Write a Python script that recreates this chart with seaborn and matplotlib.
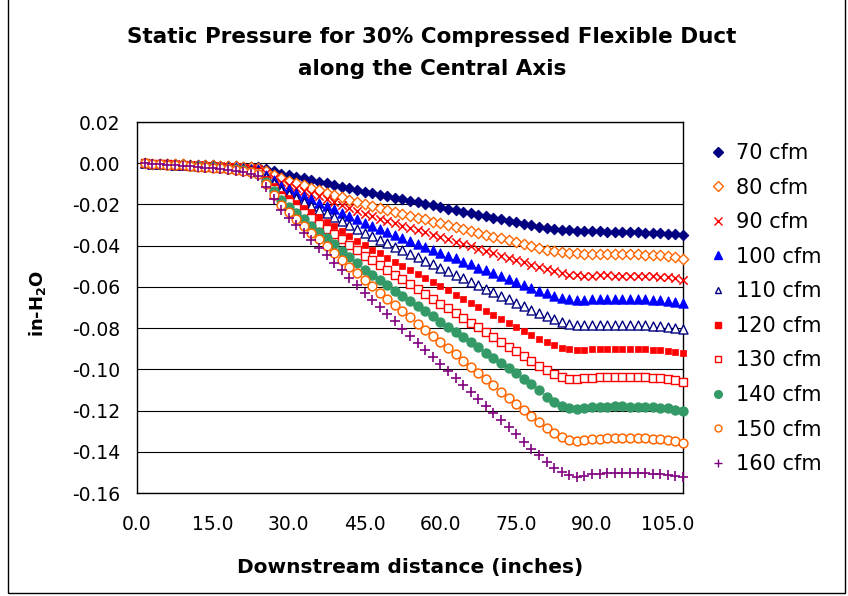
import matplotlib
matplotlib.use("Agg")
import matplotlib.pyplot as plt
from matplotlib.patches import Rectangle
from matplotlib.lines import Line2D
import seaborn as sns
import pandas as pd

# ---------------- data ----------------
distance = [1.5, 3.0, 4.5, 6.0, 7.5, 9.0, 10.5, 12.0, 13.5, 15.0, 16.5, 18.0,
            19.5, 21.0, 22.5, 24.0, 25.5, 27.0, 28.5, 30.0, 31.5, 33.0, 34.5, 36.0,
            37.5, 39.0, 40.5, 42.0, 43.5, 45.0, 46.5, 48.0, 49.5, 51.0, 52.5, 54.0,
            55.5, 57.0, 58.5, 60.0, 61.5, 63.0, 64.5, 66.0, 67.5, 69.0, 70.5, 72.0,
            73.5, 75.0, 76.5, 78.0, 79.5, 81.0, 82.5, 84.0, 85.5, 87.0, 88.5, 90.0,
            91.5, 93.0, 94.5, 96.0, 97.5, 99.0, 100.5, 102.0, 103.5, 105.0, 106.5, 108.0]

cfm70 = [0.0000, -0.0002, -0.0003, -0.0004, -0.0005, -0.0006, -0.0008, -0.0009, -0.0010, -0.0011, -0.0012, -0.0013,
         -0.0015, -0.0016, -0.0018, -0.0020, -0.0030, -0.0040, -0.0050, -0.0058, -0.0066, -0.0074, -0.0082, -0.0090,
         -0.0098, -0.0106, -0.0114, -0.0122, -0.0130, -0.0138, -0.0145, -0.0153, -0.0160, -0.0168, -0.0175, -0.0183,
         -0.0190, -0.0198, -0.0205, -0.0213, -0.0220, -0.0227, -0.0235, -0.0242, -0.0250, -0.0257, -0.0265, -0.0272,
         -0.0280, -0.0287, -0.0295, -0.0302, -0.0308, -0.0313, -0.0318, -0.0322, -0.0325, -0.0327, -0.0329, -0.0330,
         -0.0331, -0.0332, -0.0333, -0.0334, -0.0335, -0.0336, -0.0337, -0.0339, -0.0340, -0.0342, -0.0345, -0.0348]

cfm80 = [0.0000, -0.0002, -0.0003, -0.0004, -0.0005, -0.0006, -0.0008, -0.0009, -0.0010, -0.0011, -0.0012, -0.0014,
         -0.0015, -0.0017, -0.0019, -0.0021, -0.0039, -0.0056, -0.0074, -0.0085, -0.0097, -0.0108, -0.0120, -0.0131,
         -0.0143, -0.0154, -0.0166, -0.0177, -0.0189, -0.0200, -0.0209, -0.0218, -0.0228, -0.0237, -0.0246, -0.0255,
         -0.0264, -0.0273, -0.0283, -0.0292, -0.0301, -0.0310, -0.0319, -0.0329, -0.0338, -0.0347, -0.0356, -0.0365,
         -0.0374, -0.0384, -0.0393, -0.0402, -0.0411, -0.0419, -0.0426, -0.0432, -0.0436, -0.0438, -0.0439, -0.0439,
         -0.0439, -0.0440, -0.0440, -0.0441, -0.0441, -0.0442, -0.0443, -0.0445, -0.0447, -0.0451, -0.0457, -0.0465]

cfm90 = [0.0000, -0.0002, -0.0004, -0.0005, -0.0006, -0.0008, -0.0009, -0.0011, -0.0012, -0.0014, -0.0015, -0.0017,
         -0.0019, -0.0022, -0.0025, -0.0029, -0.0049, -0.0070, -0.0090, -0.0104, -0.0119, -0.0133, -0.0147, -0.0161,
         -0.0176, -0.0190, -0.0204, -0.0218, -0.0233, -0.0247, -0.0258, -0.0269, -0.0280, -0.0292, -0.0303, -0.0314,
         -0.0325, -0.0336, -0.0347, -0.0358, -0.0370, -0.0381, -0.0392, -0.0403, -0.0414, -0.0425, -0.0436, -0.0448,
         -0.0459, -0.0470, -0.0481, -0.0492, -0.0503, -0.0514, -0.0524, -0.0533, -0.0540, -0.0544, -0.0545, -0.0545,
         -0.0544, -0.0544, -0.0545, -0.0545, -0.0546, -0.0546, -0.0547, -0.0549, -0.0551, -0.0554, -0.0559, -0.0566]

cfm100 = [0.0000, -0.0002, -0.0004, -0.0005, -0.0007, -0.0008, -0.0010, -0.0011, -0.0013, -0.0014, -0.0016, -0.0018,
          -0.0020, -0.0023, -0.0026, -0.0030, -0.0057, -0.0083, -0.0110, -0.0126, -0.0143, -0.0159, -0.0175, -0.0191,
          -0.0208, -0.0224, -0.0240, -0.0256, -0.0273, -0.0289, -0.0303, -0.0318, -0.0332, -0.0347, -0.0361, -0.0376,
          -0.0390, -0.0405, -0.0419, -0.0434, -0.0448, -0.0462, -0.0477, -0.0491, -0.0506, -0.0520, -0.0535, -0.0549,
          -0.0564, -0.0578, -0.0593, -0.0607, -0.0620, -0.0632, -0.0643, -0.0653, -0.0660, -0.0663, -0.0663, -0.0661,
          -0.0659, -0.0658, -0.0657, -0.0657, -0.0658, -0.0659, -0.0660, -0.0662, -0.0664, -0.0667, -0.0672, -0.0680]

cfm110 = [0.0000, -0.0002, -0.0004, -0.0006, -0.0007, -0.0009, -0.0010, -0.0012, -0.0014, -0.0015, -0.0017, -0.0019,
          -0.0022, -0.0025, -0.0029, -0.0034, -0.0066, -0.0098, -0.0130, -0.0149, -0.0168, -0.0187, -0.0206, -0.0225,
          -0.0243, -0.0262, -0.0281, -0.0300, -0.0319, -0.0338, -0.0355, -0.0372, -0.0389, -0.0406, -0.0423, -0.0440,
          -0.0457, -0.0474, -0.0491, -0.0508, -0.0525, -0.0542, -0.0559, -0.0576, -0.0593, -0.0610, -0.0627, -0.0644,
          -0.0661, -0.0678, -0.0695, -0.0712, -0.0728, -0.0743, -0.0757, -0.0769, -0.0778, -0.0783, -0.0785, -0.0785,
          -0.0784, -0.0784, -0.0785, -0.0785, -0.0786, -0.0786, -0.0787, -0.0788, -0.0790, -0.0793, -0.0798, -0.0805]

cfm120 = [0.0000, -0.0002, -0.0004, -0.0006, -0.0008, -0.0010, -0.0012, -0.0014, -0.0016, -0.0018, -0.0020, -0.0022,
          -0.0025, -0.0029, -0.0034, -0.0040, -0.0076, -0.0111, -0.0147, -0.0170, -0.0193, -0.0216, -0.0239, -0.0262,
          -0.0285, -0.0307, -0.0330, -0.0353, -0.0376, -0.0399, -0.0419, -0.0438, -0.0458, -0.0478, -0.0498, -0.0518,
          -0.0538, -0.0558, -0.0577, -0.0597, -0.0617, -0.0637, -0.0657, -0.0676, -0.0696, -0.0716, -0.0736, -0.0756,
          -0.0776, -0.0795, -0.0815, -0.0835, -0.0853, -0.0869, -0.0883, -0.0895, -0.0903, -0.0906, -0.0905, -0.0903,
          -0.0902, -0.0901, -0.0901, -0.0901, -0.0902, -0.0902, -0.0903, -0.0905, -0.0907, -0.0910, -0.0915, -0.0922]

cfm130 = [0.0000, -0.0002, -0.0004, -0.0006, -0.0008, -0.0010, -0.0012, -0.0014, -0.0016, -0.0019, -0.0021, -0.0024,
          -0.0027, -0.0031, -0.0037, -0.0045, -0.0084, -0.0124, -0.0163, -0.0189, -0.0215, -0.0241, -0.0267, -0.0293,
          -0.0318, -0.0344, -0.0370, -0.0396, -0.0422, -0.0448, -0.0471, -0.0495, -0.0518, -0.0541, -0.0564, -0.0588,
          -0.0611, -0.0634, -0.0657, -0.0681, -0.0704, -0.0727, -0.0751, -0.0774, -0.0797, -0.0820, -0.0844, -0.0867,
          -0.0890, -0.0913, -0.0937, -0.0960, -0.0982, -0.1003, -0.1022, -0.1037, -0.1045, -0.1047, -0.1044, -0.1040,
          -0.1038, -0.1037, -0.1036, -0.1036, -0.1037, -0.1037, -0.1038, -0.1040, -0.1043, -0.1047, -0.1053, -0.1060]

cfm140 = [0.0000, -0.0002, -0.0005, -0.0007, -0.0009, -0.0011, -0.0013, -0.0015, -0.0018, -0.0020, -0.0023, -0.0026,
          -0.0030, -0.0035, -0.0042, -0.0050, -0.0093, -0.0137, -0.0180, -0.0211, -0.0241, -0.0272, -0.0303, -0.0333,
          -0.0364, -0.0394, -0.0425, -0.0456, -0.0486, -0.0517, -0.0542, -0.0567, -0.0592, -0.0618, -0.0643, -0.0668,
          -0.0693, -0.0718, -0.0743, -0.0768, -0.0794, -0.0819, -0.0844, -0.0869, -0.0894, -0.0919, -0.0944, -0.0970,
          -0.0995, -0.1020, -0.1045, -0.1070, -0.1100, -0.1132, -0.1160, -0.1180, -0.1190, -0.1192, -0.1189, -0.1185,
          -0.1183, -0.1181, -0.1180, -0.1180, -0.1181, -0.1181, -0.1182, -0.1184, -0.1186, -0.1190, -0.1195, -0.1201]

cfm150 = [0.0000, -0.0003, -0.0005, -0.0007, -0.0009, -0.0011, -0.0013, -0.0016, -0.0018, -0.0021, -0.0024, -0.0027,
          -0.0031, -0.0036, -0.0043, -0.0052, -0.0103, -0.0154, -0.0205, -0.0238, -0.0271, -0.0304, -0.0337, -0.0370,
          -0.0403, -0.0436, -0.0469, -0.0502, -0.0535, -0.0568, -0.0598, -0.0628, -0.0658, -0.0688, -0.0718, -0.0748,
          -0.0778, -0.0808, -0.0838, -0.0868, -0.0898, -0.0928, -0.0958, -0.0988, -0.1018, -0.1048, -0.1078, -0.1108,
          -0.1138, -0.1168, -0.1198, -0.1228, -0.1257, -0.1285, -0.1310, -0.1330, -0.1342, -0.1346, -0.1344, -0.1339,
          -0.1336, -0.1334, -0.1333, -0.1333, -0.1333, -0.1334, -0.1335, -0.1337, -0.1340, -0.1344, -0.1350, -0.1358]

cfm160 = [0.0000, -0.0003, -0.0005, -0.0008, -0.0010, -0.0013, -0.0015, -0.0018, -0.0021, -0.0024, -0.0027, -0.0031,
          -0.0036, -0.0042, -0.0050, -0.0060, -0.0116, -0.0172, -0.0228, -0.0265, -0.0301, -0.0338, -0.0374, -0.0411,
          -0.0447, -0.0484, -0.0520, -0.0557, -0.0593, -0.0630, -0.0664, -0.0699, -0.0733, -0.0767, -0.0802, -0.0836,
          -0.0870, -0.0905, -0.0939, -0.0973, -0.1008, -0.1042, -0.1076, -0.1111, -0.1145, -0.1179, -0.1213, -0.1248,
          -0.1282, -0.1316, -0.1351, -0.1385, -0.1418, -0.1450, -0.1478, -0.1500, -0.1515, -0.1520, -0.1516, -0.1510,
          -0.1507, -0.1505, -0.1504, -0.1504, -0.1504, -0.1505, -0.1505, -0.1507, -0.1509, -0.1512, -0.1516, -0.1520]

series_labels = ["70 cfm", "80 cfm", "90 cfm", "100 cfm", "110 cfm",
                 "120 cfm", "130 cfm", "140 cfm", "150 cfm", "160 cfm"]
series_values = [cfm70, cfm80, cfm90, cfm100, cfm110, cfm120, cfm130, cfm140, cfm150, cfm160]
x_ticks = [0, 15, 30, 45, 60, 75, 90, 105]
x_tick_labels = ["0.0", "15.0", "30.0", "45.0", "60.0", "75.0", "90.0", "105.0"]
y_ticks = [0.02, 0.00, -0.02, -0.04, -0.06, -0.08, -0.10, -0.12, -0.14, -0.16]
y_tick_labels = ["0.02", "0.00", "-0.02", "-0.04", "-0.06", "-0.08", "-0.10", "-0.12", "-0.14", "-0.16"]

# ---------------- styles ----------------
# (marker, color, filled, size, linewidth)
styles = [
    ("D", "#000080", True, 28, 0.8),
    ("D", "#FF6600", False, 28, 1.0),
    ("x", "#FF0000", True, 36, 1.1),
    ("^", "#0000FF", True, 44, 0.8),
    ("^", "#000080", False, 42, 1.0),
    ("s", "#FF0000", True, 18, 0.5),
    ("s", "#FF0000", False, 38, 1.0),
    ("o", "#339966", True, 44, 0.8),
    ("o", "#FF6600", False, 40, 1.1),
    ("+", "#800080", True, 54, 1.2),
]

sns.set_style("white")
plt.rcParams["font.family"] = ["DejaVu Sans"]
plt.rcParams["axes.unicode_minus"] = False
plt.rcParams["text.color"] = "black"

fig = plt.figure(figsize=(8.48, 5.96), dpi=100)
ax = fig.add_axes([137 / 848, 1 - 493 / 596, (683 - 137) / 848, (493 - 122) / 596])

rows = []
for lab, vals in zip(series_labels, series_values):
    for xv, yv in zip(distance, vals):
        rows.append({"distance": xv, "pressure": yv, "series": lab})
df = pd.DataFrame(rows)

handles = []
for lab, (mk, col, filled, s, lw) in zip(series_labels, styles):
    sub = df[df["series"] == lab]
    if mk in ("x", "+"):
        kw = dict(color=col, linewidth=lw)
    elif filled:
        kw = dict(color=col, edgecolor=col, linewidth=lw)
    else:
        kw = dict(facecolor="white", edgecolor=col, linewidth=lw)
    sns.scatterplot(data=sub, x="distance", y="pressure", marker=mk, s=s,
                    ax=ax, clip_on=False, zorder=3, legend=False, **kw)
    if mk in ("x", "+"):
        h = Line2D([], [], linestyle="none", marker=mk, markersize=6,
                   markeredgecolor=col, markeredgewidth=1.0)
    elif filled:
        h = Line2D([], [], linestyle="none", marker=mk, markersize=5.5 if mk != "s" else 4.5,
                   markerfacecolor=col, markeredgecolor=col)
    else:
        h = Line2D([], [], linestyle="none", marker=mk, markersize=5,
                   markerfacecolor="white", markeredgecolor=col, markeredgewidth=1.0)
    handles.append(h)

ax.set_xlim(0, 108)
ax.set_ylim(-0.16, 0.02)
ax.set_xticks(x_ticks)
ax.set_xticklabels(x_tick_labels)
ax.set_yticks(y_ticks)
ax.set_yticklabels(y_tick_labels)
ax.tick_params(axis="both", direction="out", length=6, width=1, color="black",
               labelsize=13.5, labelcolor="black")
ax.tick_params(axis="y", pad=6)
ax.tick_params(axis="x", pad=10)
ax.yaxis.grid(True, color="black", linewidth=0.8, zorder=0)
ax.xaxis.grid(False)
ax.set_axisbelow(True)
for sp in ax.spines.values():
    sp.set_visible(True)
    sp.set_color("black")
    sp.set_linewidth(1.0)
ax.set_xlabel("")
ax.set_ylabel("")

fig.text(410 / 848, 1 - 568 / 596, "Downstream distance (inches)", ha="center", va="center",
         fontsize=14.5, fontweight="bold")
fig.text(38 / 848, 1 - 303 / 596, r"in-H$_\mathbf{2}$O", ha="center", va="center", rotation=90,
         fontsize=13, fontweight="bold")
fig.text(432 / 848, 1 - 37 / 596, "Static Pressure for 30% Compressed Flexible Duct",
         ha="center", va="center", fontsize=15.5, fontweight="bold")
fig.text(432 / 848, 1 - 69 / 596, "along the Central Axis",
         ha="center", va="center", fontsize=15.5, fontweight="bold")

fig.legend(handles, series_labels, loc="upper left", bbox_to_anchor=(710 / 848, 1 - 143 / 596),
           frameon=False, fontsize=15, labelspacing=0.7, handlelength=0.8,
           handletextpad=0.45, borderpad=0, borderaxespad=0)

fig.patches.append(Rectangle((8 / 848, 3 / 596), (845 - 8) / 848, 1.0, transform=fig.transFigure,
                             fill=False, edgecolor="black", linewidth=1.0, clip_on=False))

fig.savefig("out.png", dpi=100)
